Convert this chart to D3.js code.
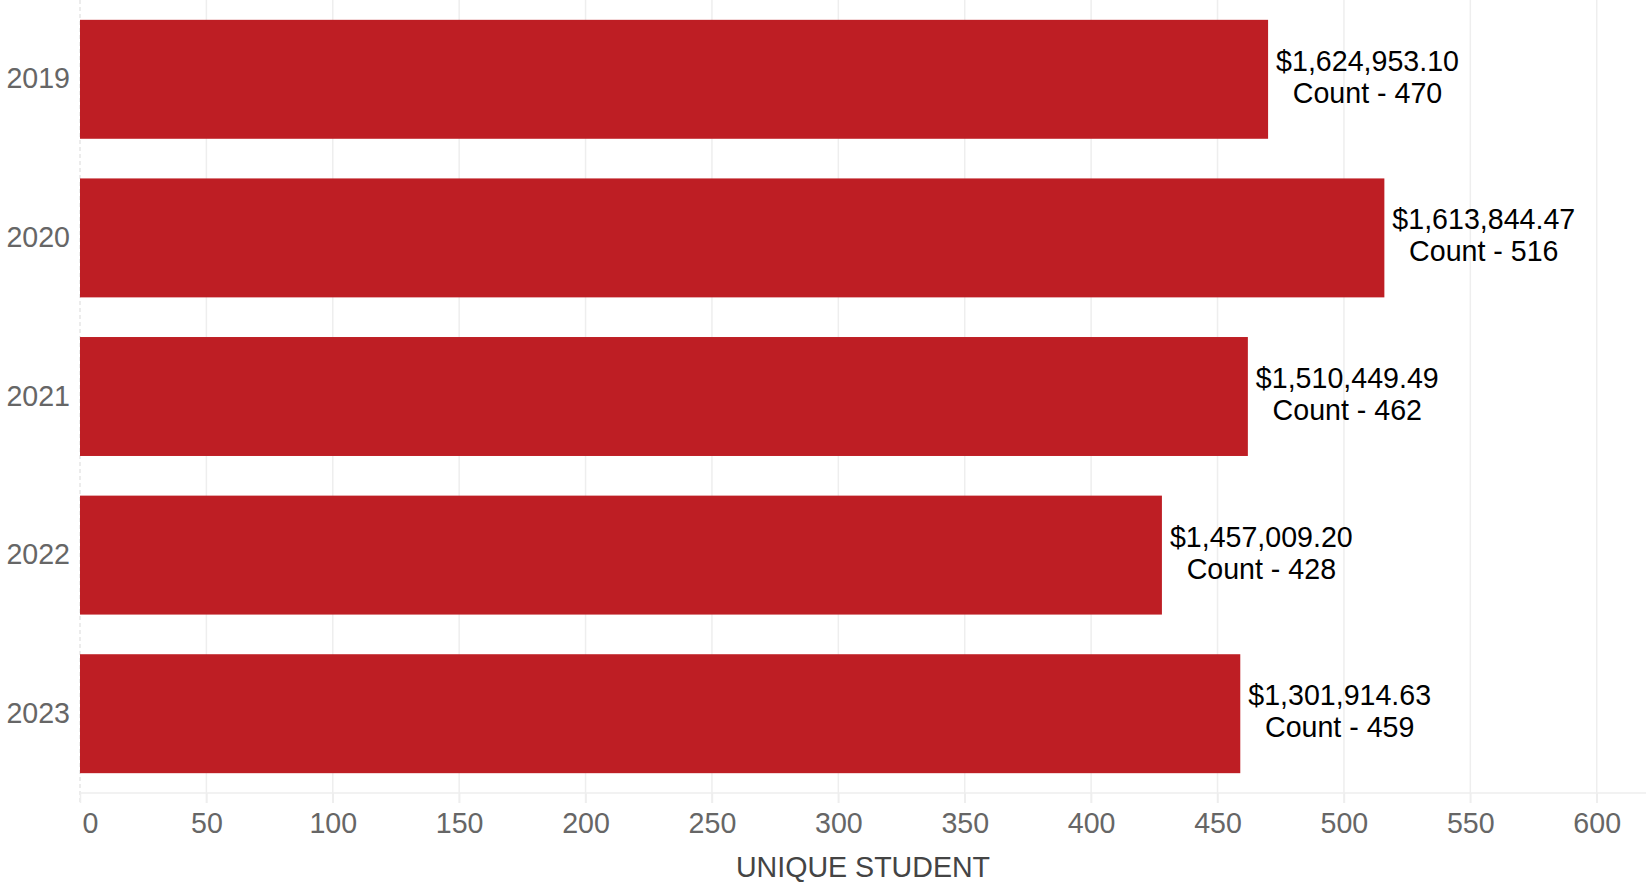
<!DOCTYPE html>
<html lang="en">
<head>
  <meta charset="UTF-8">
  <title>Unique Students by Year</title>
  <script src="https://d3js.org/d3.v7.min.js"></script>
  <style>
    body {
      margin: 0;
      background: #fff;
      font-family: "Liberation Sans", Arial, sans-serif;
    }

    .grid line {
      stroke: #eeeeee;
      stroke-width: 1.5;
    }

    .axis text {
      font-size: 28.6px;
      fill: #666;
    }

    .label {
      font-size: 28.6px;
      fill: #000;
    }
  </style>
</head>
<body>
  <svg id="chart" width="1646" height="883"></svg>

  <script>
    const years = ["2019", "2020", "2021", "2022", "2023"];
    const counts = [470, 516, 462, 428, 459];
    const amounts = ["$1,624,953.10", "$1,613,844.47", "$1,510,449.49", "$1,457,009.20", "$1,301,914.63"];
    const xTicks = [0, 50, 100, 150, 200, 250, 300, 350, 400, 450, 500, 550, 600];

    const margin = { top: 0, right: 0, bottom: 90, left: 80 };
    const width = 1646 - margin.left - margin.right;
    const height = 883 - margin.top - margin.bottom;

    const svg = d3.select("#chart")
      .append("g")
      .attr("transform", `translate(${margin.left},${margin.top})`);

    const x = d3.scaleLinear()
      .domain([0, 619.5])
      .range([0, width]);

    const y = d3.scaleBand()
      .domain(years)
      .range([0, height])
      .paddingInner(0.25)
      .paddingOuter(0.125);

    // vertical grid
    svg.append("g")
      .attr("class", "grid")
      .selectAll("line")
      .data(xTicks.slice(1))
      .join("line")
      .attr("x1", d => x(d))
      .attr("x2", d => x(d))
      .attr("y1", 0)
      .attr("y2", height + 10);

    // zero line
    svg.append("line")
      .attr("x1", 0).attr("x2", 0)
      .attr("y1", 0).attr("y2", height + 10)
      .attr("stroke", "#e6e6e6")
      .attr("stroke-dasharray", "4,3")
      .attr("stroke-width", 1.5);

    // baseline
    svg.append("line")
      .attr("x1", 0).attr("x2", width)
      .attr("y1", height).attr("y2", height)
      .attr("stroke", "#eeeeee")
      .attr("stroke-width", 1.5);

    const xAxis = svg.append("g")
      .attr("class", "axis")
      .attr("transform", `translate(0,${height})`)
      .call(d3.axisBottom(x).tickValues(xTicks).tickSize(10).tickPadding(10));
    xAxis.select(".domain").remove();
    xAxis.selectAll(".tick line").attr("stroke", "#eeeeee").attr("stroke-width", 1.5);
    xAxis.selectAll(".tick text").attr("dy", "0.71em")
      .filter(d => d === 0).attr("text-anchor", "start").attr("dx", 2);

    const yAxis = svg.append("g")
      .attr("class", "axis")
      .call(d3.axisLeft(y).tickSize(0).tickPadding(10));
    yAxis.select(".domain").remove();

    const data = years.map((yr, i) => ({ year: yr, count: counts[i], amount: amounts[i] }));

    svg.selectAll(".bar")
      .data(data)
      .join("rect")
      .attr("class", "bar")
      .attr("x", 0)
      .attr("y", d => y(d.year))
      .attr("width", d => x(d.count))
      .attr("height", y.bandwidth())
      .attr("fill", "#BE1E24");

    const labels = svg.selectAll(".label")
      .data(data)
      .join("text")
      .attr("class", "label")
      .attr("text-anchor", "middle");

    labels.append("tspan")
      .attr("class", "l1")
      .attr("y", d => y(d.year) + y.bandwidth() / 2 - 8.5)
      .text(d => d.amount);
    labels.append("tspan")
      .attr("class", "l2")
      .attr("y", d => y(d.year) + y.bandwidth() / 2 + 23.5)
      .text(d => `Count - ${d.count}`);

    labels.each(function (d) {
      const t = d3.select(this);
      const w = Math.max(t.select(".l1").node().getComputedTextLength(),
        t.select(".l2").node().getComputedTextLength());
      const cx = x(d.count) + 8 + w / 2;
      t.selectAll("tspan").attr("x", cx);
    });

    svg.append("text")
      .attr("x", width / 2)
      .attr("y", 877)
      .attr("text-anchor", "middle")
      .style("font-size", "28.6px")
      .style("fill", "#444")
      .text("UNIQUE STUDENT");
  </script>
</body>
</html>
